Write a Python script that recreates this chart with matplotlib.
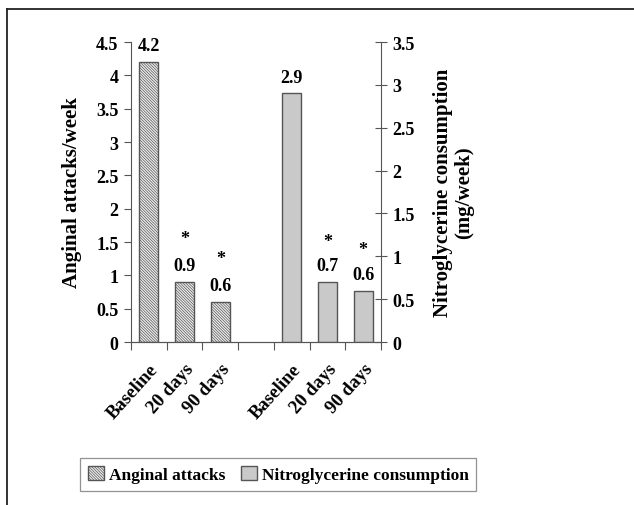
import numpy as np
import matplotlib.pyplot as plt
import matplotlib.transforms as mtrans
from matplotlib.lines import Line2D
from matplotlib.ticker import FuncFormatter

plt.rcParams['font.family'] = ['Liberation Serif', 'DejaVu Serif']
plt.rcParams['font.weight'] = 'bold'
plt.rcParams['axes.labelweight'] = 'bold'
plt.rcParams['hatch.color'] = '#a0a0a0'
plt.rcParams['hatch.linewidth'] = 0.5

# data
periods = ['Baseline', '20 days', '90 days']
anginal = [4.2, 0.9, 0.6]
nitro = [2.9, 0.7, 0.6]
anginal_lbl = ['4.2', '*\n0.9', '*\n0.6']
nitro_lbl = ['2.9', '*\n0.7', '*\n0.6']

edge = '#555555'

fig = plt.figure(figsize=(6.34, 5.06), dpi=100)
ax = fig.add_axes([0.2066, 0.322, 0.3944, 0.593])
ax2 = ax.twinx()

x1 = np.arange(len(periods))
x2 = x1 + len(periods) + 1

b1 = ax.bar(x1, anginal, width=0.53, color='#eeeeee', edgecolor=edge,
            linewidth=1, hatch='\\' * 12, label='Anginal attacks')
b2 = ax2.bar(x2, nitro, width=0.53, color='#c9c9c9', edgecolor=edge,
             linewidth=1, label='Nitroglycerine consumption')

for xi, v, t in zip(x1, anginal, anginal_lbl):
    ax.text(xi, v + 0.12, t, ha='center', va='bottom', fontsize=13,
            linespacing=1.75)
for xi, v, t in zip(x2, nitro, nitro_lbl):
    ax2.text(xi, v + 0.09, t, ha='center', va='bottom', fontsize=13,
             linespacing=1.6)

ax.set_xlim(-0.5, 6.5)
ax.set_ylim(0, 4.5)
ax2.set_ylim(0, 3.5)
ax.set_yticks(np.arange(0, 4.51, 0.5))
ax2.set_yticks(np.arange(0, 3.51, 0.5))
fmt = FuncFormatter(lambda v, p: '%g' % v)
ax.yaxis.set_major_formatter(fmt)
ax2.yaxis.set_major_formatter(fmt)

# x ticks at slot edges, labels at bar centres
ax.set_xticks(np.arange(-0.5, 6.6, 1))
ax.set_xticklabels([])
ax.set_xticks(np.concatenate([x1, x2]), minor=True)
ax.set_xticklabels(periods + periods, minor=True, rotation=48, ha='right',
                   rotation_mode='anchor', fontsize=13.5)
shift = mtrans.ScaledTranslation(-4 / 100, 0, fig.dpi_scale_trans)
for lab in ax.get_xticklabels(minor=True):
    lab.set_transform(lab.get_transform() + shift)
ax.tick_params(axis='x', which='minor', length=0, pad=13)
ax.tick_params(axis='x', which='major', length=6, color=edge, direction='out')
ax.tick_params(axis='y', length=5, color=edge, labelsize=13, pad=4)
ax2.tick_params(axis='y', length=8, color=edge, direction='inout',
                labelsize=13, pad=4)

for a in (ax, ax2):
    a.spines['top'].set_visible(False)
    for s in a.spines.values():
        s.set_color(edge)
ax.spines['right'].set_visible(False)
ax2.spines['left'].set_visible(False)

ax.set_ylabel('Anginal attacks/week', fontsize=15, labelpad=10)
ax2.set_ylabel('Nitroglycerine consumption\n(mg/week)', fontsize=15,
               labelpad=13, linespacing=1.1)

fig.legend(handles=[b1, b2], loc='center', bbox_to_anchor=(0.439, 0.06),
           ncol=2, fontsize=12.5, frameon=True, fancybox=False,
           edgecolor='#777777', handlelength=0.9, handleheight=0.9,
           handletextpad=0.3, columnspacing=0.9, borderpad=0.45)
fig.legends[0].get_frame().set_linewidth(0.9)

# outer frame (top and left edges visible)
fig.add_artist(Line2D([0.011, 1.0], [0.98, 0.98], transform=fig.transFigure,
                      color='#222222', linewidth=1.3))
fig.add_artist(Line2D([0.011, 0.011], [0.0, 0.98], transform=fig.transFigure,
                      color='#222222', linewidth=1.3))

fig.savefig('out.png', dpi=100)
